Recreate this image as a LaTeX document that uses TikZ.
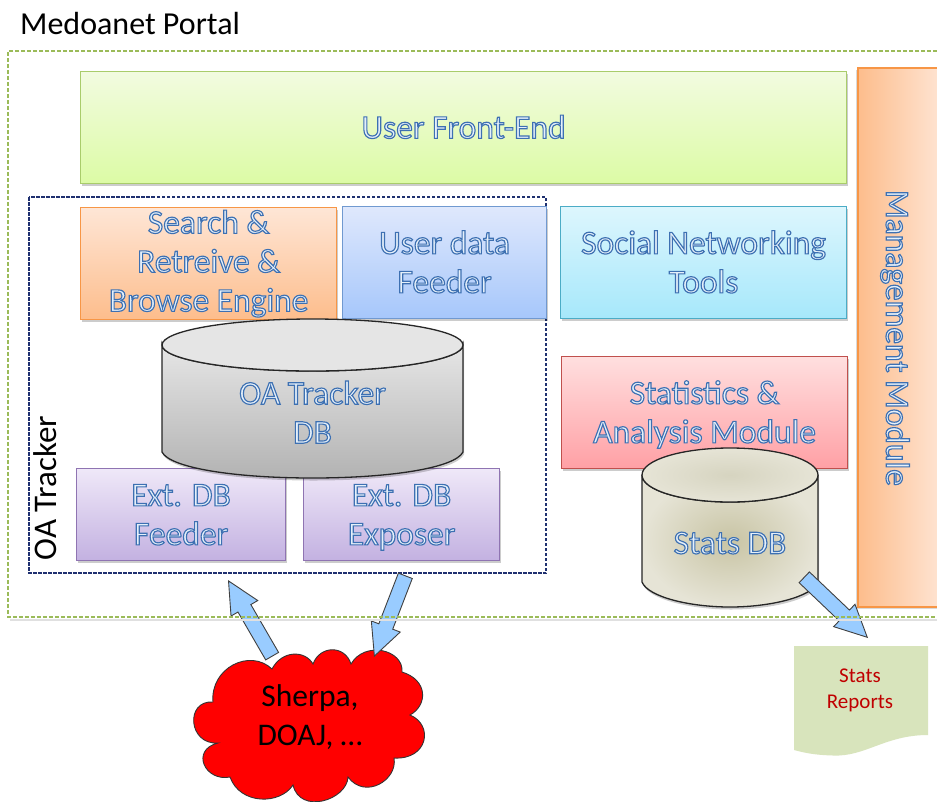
\documentclass[tikz,border=0pt]{standalone}
\usepackage{fontspec}
\setmainfont{Carlito}
\usetikzlibrary{shadows,shapes.arrows}
\definecolor{feB}{HTML}{A9CC6B}\definecolor{feT}{HTML}{F2FBE0}\definecolor{feL}{HTML}{DCFBA5}
\definecolor{orB}{HTML}{F79646}\definecolor{orT}{HTML}{FEE6D6}\definecolor{orL}{HTML}{FDBD8C}
\definecolor{blB}{HTML}{7099D0}\definecolor{blT}{HTML}{DFE8FC}\definecolor{blL}{HTML}{A6C7FB}
\definecolor{cyB}{HTML}{4BACC6}\definecolor{cyT}{HTML}{DDF6FD}\definecolor{cyL}{HTML}{A6E8FB}
\definecolor{reB}{HTML}{C0504D}\definecolor{reT}{HTML}{FFDFDF}\definecolor{reL}{HTML}{FFA0A5}
\definecolor{puB}{HTML}{8F74B2}\definecolor{puT}{HTML}{EFE8F8}\definecolor{puL}{HTML}{C3B1E1}
\definecolor{dash1}{HTML}{9BBB59}\definecolor{dash2}{HTML}{1F3070}
\definecolor{arrowF}{HTML}{99CCFF}\definecolor{repF}{HTML}{D8E4BC}\definecolor{repT}{HTML}{C00000}
\definecolor{dbIn}{HTML}{C8C4A4}\definecolor{dbOut}{HTML}{E6E4D6}\definecolor{dbTop}{HTML}{D6D4C0}
\newcommand{\olset}{\special{pdf:code 2 Tr 1.15 w 0.24 0.44 0.70 RG 0.90 0.94 0.98 rg}}
\newcommand{\lstrut}{\rule[-8.7pt]{0pt}{39pt}}
\newcommand{\ol}[1]{\olset\lstrut#1\lstrut}
\newcommand{\br}{\lstrut\\\lstrut}
\tikzset{
  softshadow/.style={drop shadow={shadow xshift=1pt,shadow yshift=-2.5pt,fill=black,opacity=.2}},
  modbox/.style={rectangle,draw=#1B,top color=#1T,bottom color=#1L,line width=1.2pt,softshadow,
    anchor=north west,inner sep=0pt,align=center,font=\fontsize{33.5}{39}\selectfont},
  dbtext/.style={align=center,font=\fontsize{33.5}{39}\selectfont},
  plain/.style={font=\fontsize{32}{36}\selectfont,text=black,inner sep=0pt},
  blockarrow/.style={shape=single arrow,draw=black!75,fill=arrowF,line width=.9pt,inner xsep=0pt,inner ysep=7pt,
    minimum width=30pt,single arrow head extend=8pt,single arrow tip angle=52,anchor=tip},
  dbline/.style={draw=black!85,line width=1.3pt},
  greenframe/.style={dash1,line width=1.2pt,dash pattern=on 4pt off 2pt},
  navyframe/.style={dash2,line width=1.1pt,dash pattern=on 3.5pt off 1.5pt}
}
\begin{document}
\begin{tikzpicture}[x=1pt,y=-1pt]
\useasboundingbox (0,0) rectangle (937,801);
\fill[white] (0,0) rectangle (937,801);
\node[plain,anchor=west] (portal) at (20,24) {Medoanet Portal};
% OA tracker frame
\draw[navyframe] (29,197) rectangle (546,573);
\node[plain,rotate=90,font=\fontsize{33}{36}\selectfont] (oalabel) at (45,488) {OA Tracker};
% modules
\node[modbox=fe,minimum width=766pt,minimum height=112pt] (front) at (80,71) {\ol{User Front-End}};
\node[modbox=or,minimum width=256pt,minimum height=112pt] (search) at (80,207) {\olset Search \&\\ Retreive \&\\ Browse Engine};
\node[modbox=bl,minimum width=204pt,minimum height=112pt] (feeder) at (342,206) {\ol{User data\br Feeder}};
\node[modbox=cy,minimum width=286pt,minimum height=112pt] (social) at (560,206) {\ol{Social Networking\br Tools}};
\node[modbox=re,minimum width=286pt,minimum height=112pt] (stats) at (561,356) {\ol{Statistics \&\br Analysis Module}};
\node[modbox=pu,minimum width=209pt,minimum height=92pt] (extfeed) at (76,468) {\ol{Ext. DB\br Feeder}};
\node[modbox=pu,minimum width=196pt,minimum height=92pt] (extexp) at (303,468) {\ol{Ext. DB\br Exposer}};
% management
\path[drop shadow={shadow xshift=-2pt,shadow yshift=-2pt,fill=black,opacity=.15},fill=orT] (858,68) rectangle (945,607);
\draw[orB,left color=orL,right color=orT,line width=1.2pt] (858,68) rectangle (945,607);
\node[dbtext,rotate=-90] (mgmt) at (897,338) {\ol{Management Module}};
% OA Tracker DB
\path[dbline,top color=black!10,bottom color=black!30,softshadow]
  (162,345) -- (162,452) .. controls (170,468) and (235,478) .. (312.5,478)
  .. controls (390,478) and (455,468) .. (463,452) -- (463,345)
  arc[start angle=0,end angle=180,x radius=150.5,y radius=26] -- cycle;
\path[dbline,fill=black!10] (312.5,345) ellipse[x radius=150.5,y radius=26];
\node[dbtext] (oadb) at (312.5,413) {\ol{OA Tracker\br DB}};
% Stats DB
\path[dbline,softshadow,inner color=dbIn,outer color=dbOut]
  (642,475) -- (642,582) .. controls (648,597) and (690,607) .. (730,607)
  .. controls (770,607) and (812,597) .. (818,582) -- (818,475)
  arc[start angle=0,end angle=180,x radius=88,y radius=27] -- cycle;
\path[dbline,inner color=dbTop,outer color=dbOut] (730,475) ellipse[x radius=88,y radius=27];
\node[dbtext] (statsdb) at (730,543) {\ol{Stats DB}};
% cloud
\path[draw=black!80,fill=red,line width=.9pt]
  (213,702) .. controls (210,668) and (250,648) .. (272,669)
  .. controls (282,650) and (305,650) .. (313,664)
  .. controls (320,645) and (345,645) .. (351,664)
  .. controls (365,640) and (404,650) .. (402,672)
  .. controls (428,680) and (428,705) .. (410,715)
  .. controls (434,725) and (428,760) .. (394,758)
  .. controls (398,780) and (365,800) .. (348,777)
  .. controls (347,800) and (300,815) .. (293,785)
  .. controls (280,805) and (240,805) .. (230,777)
  .. controls (205,782) and (190,750) .. (218,743)
  .. controls (188,745) and (185,700) .. (213,702) -- cycle;
\node[align=center,font=\fontsize{31.5}{39}\selectfont,inner sep=0pt] (cloud) at (310,717) {Sherpa,\\DOAJ, \dots};
% arrows
\node[blockarrow,minimum height=87pt,rotate=120.1] (upArrow) at (228,580) {};
\node[blockarrow,minimum height=86pt,rotate=248.9] (downArrow) at (374,657) {};
\node[blockarrow,minimum height=87pt,rotate=-43.6] (repArrow) at (868,638) {};
% portal frame
\draw[black!12,line width=1.5pt] (937,620) -- (10,620);
\draw[greenframe] (937,51) -- (8,51) -- (8,617) -- (937,617);
% report
\path[fill=repF] (794,646) -- (928,646) -- (928,735)
  .. controls (885,735) and (865,757) .. (833,755.5) .. controls (815,755) and (805,753) .. (794,750) -- cycle;
\node[align=center,text=repT,font=\fontsize{21}{26}\selectfont,inner sep=0pt] (report) at (860,690) {Stats\\Reports};
\end{tikzpicture}
\end{document}
